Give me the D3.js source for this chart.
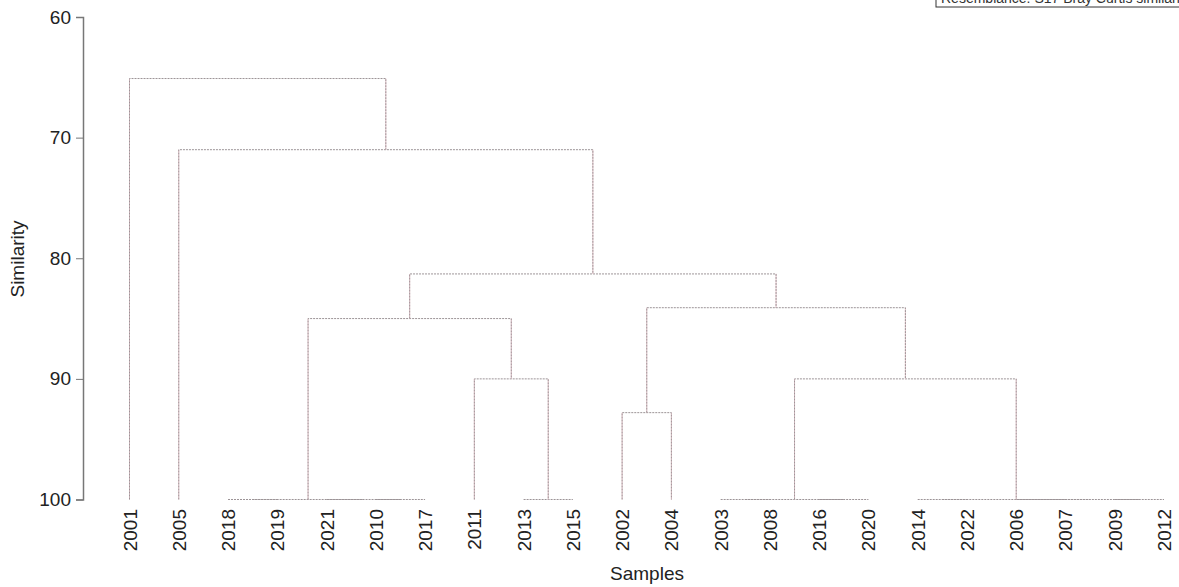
<!DOCTYPE html>
<html><head><meta charset="utf-8">
<script src="https://cdn.jsdelivr.net/npm/d3@7"></script>
<style>body{margin:0;background:#fff}svg{display:block}</style>
</head><body>
<svg id="c" width="1179" height="587"></svg>
<script>
// Leaf order (as drawn)
const samples = ["2001","2005","2018","2019","2021","2010","2017","2011","2013","2015","2002","2004","2003","2008","2016","2020","2014","2022","2006","2007","2009","2012"];
// Linkage: each merge joins mergeLeft and mergeRight (sample name or merge id "m#") at mergeSimilarity
const mergeLeft  = ["2018","2010","2021","m0","2013","2011","m3","2002","2003","2016","m8","2014","2006","2009","m12","m11","m10","m7","m6","2005","2001"];
const mergeRight = ["2019","2017","m1","m2","2015","m4","m5","2004","2008","2020","m9","2022","2007","2012","m13","m14","m15","m16","m17","m18","m19"];
const mergeSimilarity = [100,100,100,100,100,90.0,85.0,92.8,100,100,100,100,100,100,100,100,90.0,84.1,81.3,71.0,65.1];
const yTicks = [60,70,80,90,100];

const svg = d3.select("#c");
const x = d3.scalePoint().domain(samples).range([129.5, 1164]);
const y = d3.scaleLinear().domain([60,100]).range([17, 499.5]);

const pos = {};
samples.forEach(s => pos[s] = {x: x(s), h: 100});
const g = svg.append("g");
mergeLeft.forEach((a, i) => {
  const b = mergeRight[i], h = mergeSimilarity[i];
  const A = pos[a], B = pos[b];
  pos["m"+i] = {x: (A.x + B.x)/2, h: h};
  // faint solid underlay for vertical links
  g.append("path")
    .attr("d", `M${A.x},${y(A.h)}V${y(h)}M${B.x},${y(h)}V${y(B.h)}`)
    .attr("fill","none").attr("stroke","#ecc8cf").attr("stroke-width",1);
  g.append("path")
    .attr("d", `M${A.x},${y(A.h)}V${y(h)}H${B.x}V${y(B.h)}`)
    .attr("fill","none").attr("stroke","#9c9497").attr("stroke-width",1)
    .attr("stroke-dasharray","2,1");
});

// Y axis
const yAxis = svg.append("g").attr("transform","translate(83,0)")
  .call(d3.axisLeft(y).tickValues(yTicks).tickSize(7).tickPadding(5).tickFormat(d3.format("d")));
yAxis.select(".domain").attr("stroke","#777").attr("stroke-width",1.5);
yAxis.selectAll(".tick line").attr("stroke","#777");
yAxis.selectAll("text").attr("font-family","Liberation Sans, Arial, sans-serif").attr("font-size",19).attr("fill","#222");

// X labels (rotated)
svg.append("g").selectAll("text").data(samples).join("text")
  .attr("transform", d => `translate(${x(d)+7},509) rotate(-90)`)
  .attr("text-anchor","end")
  .attr("font-family","Liberation Sans, Arial, sans-serif").attr("font-size",19).attr("fill","#222")
  .text(d => d);

// Axis titles
svg.append("text").attr("x",647).attr("y",580).attr("text-anchor","middle")
  .attr("font-family","Liberation Sans, Arial, sans-serif").attr("font-size",19).attr("fill","#222").text("Samples");
svg.append("text").attr("transform","translate(24,259) rotate(-90)").attr("text-anchor","middle")
  .attr("font-family","Liberation Sans, Arial, sans-serif").attr("font-size",19).attr("fill","#222").text("Similarity");

// Legend box (cut off at top)
svg.append("rect").attr("x",936).attr("y",-12).attr("width",260).attr("height",19)
  .attr("fill","#fff").attr("stroke","#333").attr("stroke-width",1);
svg.append("text").attr("x",941).attr("y",3)
  .attr("font-family","Liberation Sans, Arial, sans-serif").attr("font-size",14).attr("fill","#333")
  .text("Resemblance: S17 Bray Curtis similarity (+d)");
</script>
</body></html>
